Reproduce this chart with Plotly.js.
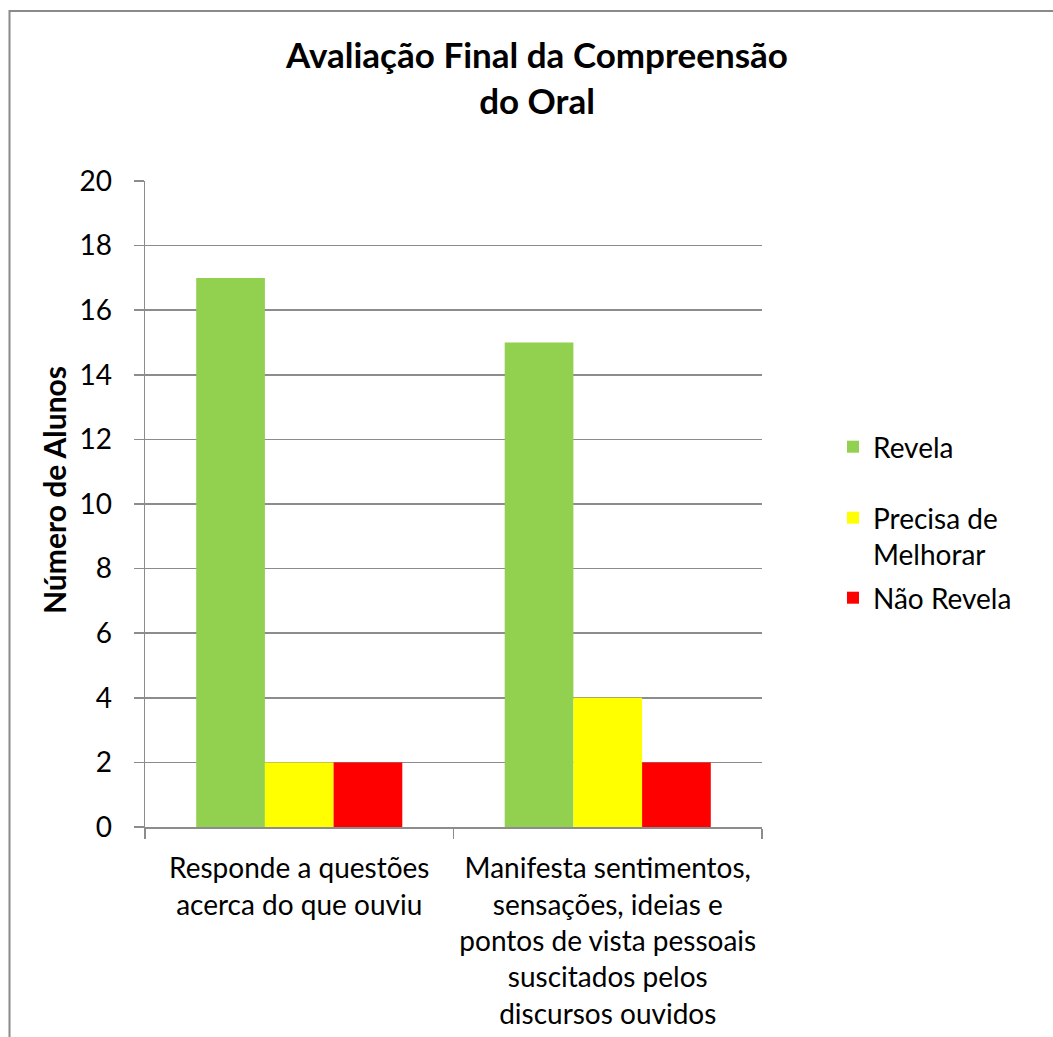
<!DOCTYPE html>
<html>
<head>
<meta charset="utf-8">
<script src="https://cdn.plot.ly/plotly-3.0.1.min.js"></script>
<style>
  html, body { margin: 0; padding: 0; background: #ffffff; }
  #chart { width: 1053px; height: 1037px; }
</style>
</head>
<body>
<div id="chart"></div>
<script>
// Categories (criteria evaluated)
var categories = [
  'Responde a questões<br>acerca do que ouviu',
  'Manifesta sentimentos,<br>sensações, ideias e<br>pontos de vista pessoais<br>suscitados pelos<br>discursos ouvidos'
];

// Number of students per rating level
var revela = [17, 15];
var precisaMelhorar = [2, 4];
var naoRevela = [2, 2];

// Series names
var seriesNames = ['Revela', 'Precisa de<br>Melhorar', 'Não Revela'];
var seriesColors = ['#92D050', '#FFFF00', '#FF0000'];

var FONT = 'Lato, "Open Sans", sans-serif';
var TXT = 28;

// Plot area in pixels
var W = 1053, H = 1037;
var plotL = 145, plotR = 762, plotT = 181, plotB = 827;
function px2x(px) { return (px - plotL) / (plotR - plotL); }
function px2y(py) { return (plotB - py) / (plotB - plotT); }

var seriesValues = [revela, precisaMelhorar, naoRevela];
var legendIds = ['legend', 'legend2', 'legend3'];

var traces = seriesValues.map(function (vals, i) {
  return {
    type: 'bar',
    name: seriesNames[i],
    x: categories,
    y: vals,
    marker: { color: seriesColors[i], line: { width: 0 } },
    legend: legendIds[i],
    hoverinfo: 'x+y+name'
  };
});

function legendBox(centerY) {
  return {
    x: px2x(833),
    y: px2y(centerY),
    xanchor: 'left',
    yanchor: 'middle',
    bgcolor: 'rgba(0,0,0,0)',
    borderwidth: 0,
    valign: 'top',
    font: { family: FONT, size: TXT, color: '#000000' }
  };
}

var gridColor = '#8c8c8c';

var layout = {
  width: W,
  height: H,
  margin: { l: plotL, r: W - plotR, t: plotT, b: H - plotB, pad: 0 },
  paper_bgcolor: '#ffffff',
  plot_bgcolor: '#ffffff',
  barmode: 'group',
  bargap: 0.332,
  bargroupgap: 0,
  font: { family: FONT, size: TXT, color: '#000000' },
  title: {
    text: '<b>Avaliação Final da Compreensão<br>do Oral</b>',
    font: { family: FONT, size: 35, color: '#000000' },
    x: 537 / W,
    xref: 'container',
    xanchor: 'center',
    y: 1 - 68 / H,
    yref: 'container',
    yanchor: 'top'
  },
  xaxis: {
    type: 'category',
    showgrid: false,
    showline: true,
    linecolor: gridColor,
    linewidth: 1.5,
    ticks: 'outside',
    tickson: 'boundaries',
    ticklen: 10,
    tickwidth: 1.5,
    tickcolor: gridColor,
    ticklabelstandoff: 16,
    tickfont: { family: FONT, size: TXT, color: '#000000' },
    fixedrange: true
  },
  yaxis: {
    range: [0, 20],
    dtick: 2,
    tick0: 0,
    showgrid: true,
    gridcolor: gridColor,
    gridwidth: 1.5,
    zeroline: false,
    showline: true,
    linecolor: gridColor,
    linewidth: 1.5,
    ticks: 'outside',
    ticklen: 10,
    tickwidth: 1.5,
    tickcolor: gridColor,
    ticklabelstandoff: 16,
    tickfont: { family: FONT, size: TXT, color: '#000000' },
    fixedrange: true
  },
  showlegend: true,
  legend: legendBox(447),
  legend2: legendBox(536),
  legend3: legendBox(598),
  annotations: [
    {
      text: '<b>Número de Alunos</b>',
      xref: 'paper', yref: 'paper',
      x: px2x(54), y: px2y(490),
      xanchor: 'center', yanchor: 'middle',
      textangle: -90,
      showarrow: false,
      font: { family: FONT, size: 30, color: '#000000' }
    }
  ],
  shapes: [
    {
      type: 'rect',
      xref: 'paper', yref: 'paper',
      x0: px2x(9.5), x1: px2x(W + 20),
      y0: px2y(H + 20), y1: px2y(11),
      line: { color: '#8a8a8a', width: 2 },
      fillcolor: 'rgba(0,0,0,0)',
      layer: 'above'
    }
  ]
};

Plotly.newPlot('chart', traces, layout, { displayModeBar: false, staticPlot: true });
</script>
</body>
</html>
